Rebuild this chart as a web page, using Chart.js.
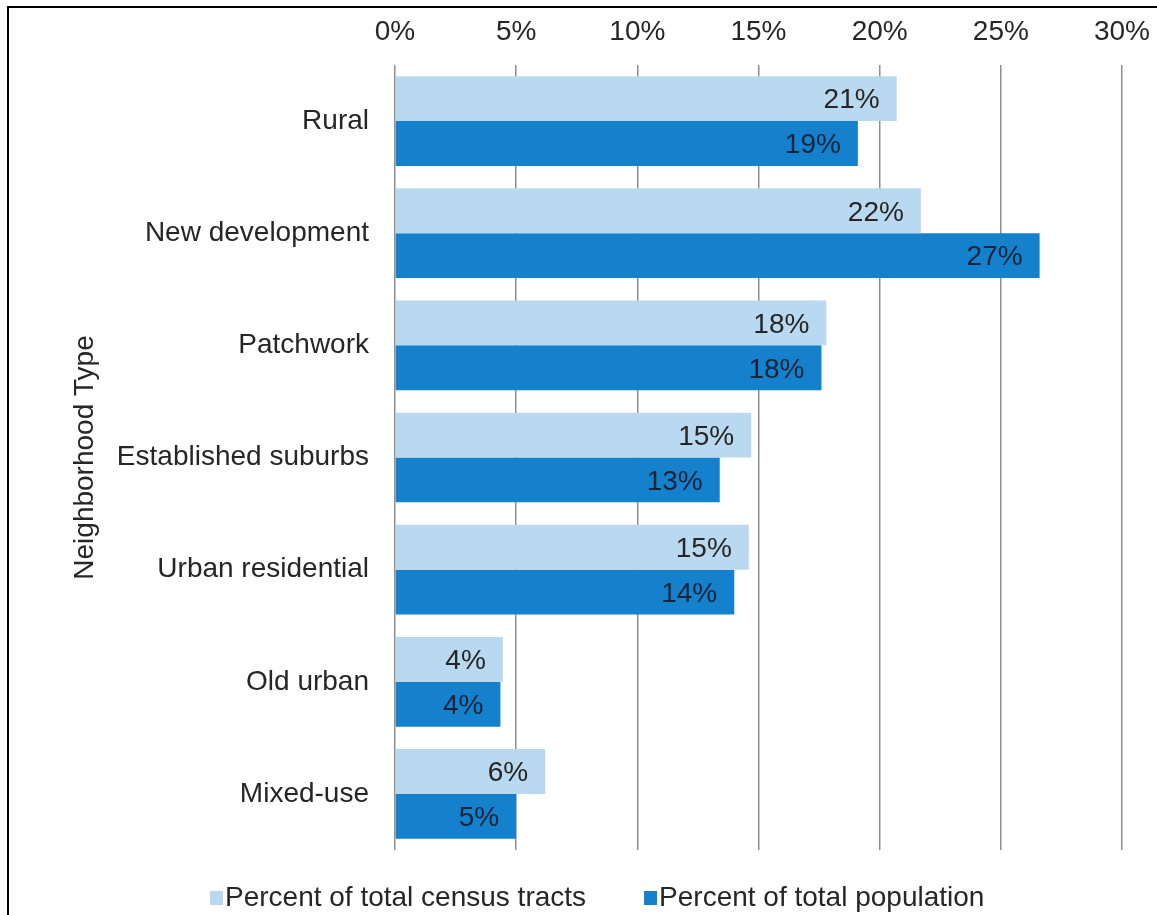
<!DOCTYPE html>
<html>
<head>
<meta charset="utf-8">
<title>Neighborhood Type</title>
<script src="https://cdn.jsdelivr.net/npm/chart.js@4/dist/chart.umd.min.js"></script>
<style>
    body { margin: 0; background: #fff; }
    #wrap { position: relative; width: 1157px; height: 915px; overflow: hidden; }
    #frame {
        position: absolute; left: 7px; top: 6px; right: -10px; bottom: -10px;
        border-left: 2px solid #000; border-top: 2px solid #000;
        pointer-events: none;
    }
</style>
</head>
<body>
<div id="wrap">
    <canvas id="chart" width="1157" height="915"></canvas>
    <div id="frame"></div>
</div>
<script>
const neighborhoodTypes = ['Rural', 'New development', 'Patchwork', 'Established suburbs', 'Urban residential', 'Old urban', 'Mixed-use'];
const censusTractShare = [20.7, 21.7, 17.8, 14.7, 14.6, 4.45, 6.2];
const populationShare = [19.1, 26.6, 17.6, 13.4, 14.0, 4.35, 5.0];
const percentTicks = [0, 5, 10, 15, 20, 25, 30];

const seriesNames = ['Percent of total census tracts', 'Percent of total population'];
const seriesColors = ['#B8D9EF', '#1581CC'];

const FONT = 'Liberation Sans, Arial, sans-serif';
const TEXT_COLOR = '#262626';

// value labels sitting inside the end of each bar
const barLabels = {
    id: 'barLabels',
    afterDatasetsDraw(chart) {
        const ctx = chart.ctx;
        ctx.save();
        ctx.font = '28px ' + FONT;
        ctx.textAlign = 'right';
        ctx.textBaseline = 'middle';
        chart.data.datasets.forEach((ds, i) => {
            ctx.fillStyle = i === 0 ? TEXT_COLOR : '#10243a';
            chart.getDatasetMeta(i).data.forEach((bar, j) => {
                ctx.fillText(Math.round(ds.data[j]) + '%', bar.x - 17, bar.y + 2);
            });
        });
        ctx.restore();
    }
};

// legend drawn by hand so box/text spacing matches
const bottomLegend = {
    id: 'bottomLegend',
    afterDraw(chart) {
        const ctx = chart.ctx;
        ctx.save();
        ctx.font = '28px ' + FONT;
        ctx.textBaseline = 'middle';
        ctx.textAlign = 'left';
        let x = 210;
        const y = 898;
        chart.data.datasets.forEach(ds => {
            ctx.fillStyle = ds.backgroundColor;
            ctx.fillRect(x, y - 7, 13, 14);
            ctx.fillStyle = TEXT_COLOR;
            ctx.fillText(ds.label, x + 15, y);
            x += 15 + ctx.measureText(ds.label).width + 58;
        });
        ctx.restore();
    }
};

const ctx = document.getElementById('chart').getContext('2d');
new Chart(ctx, {
    type: 'bar',
    data: {
        labels: neighborhoodTypes,
        datasets: [{
            label: seriesNames[0],
            data: censusTractShare,
            backgroundColor: seriesColors[0]
        }, {
            label: seriesNames[1],
            data: populationShare,
            backgroundColor: seriesColors[1]
        }]
    },
    options: {
        indexAxis: 'y',
        responsive: false,
        animation: false,
        layout: { padding: { left: 0, right: 35, top: 0, bottom: 65 } },
        datasets: {
            bar: { categoryPercentage: 0.8, barPercentage: 1.0 }
        },
        plugins: {
            legend: { display: false },
            tooltip: { enabled: false }
        },
        scales: {
            x: {
                position: 'top',
                min: 0,
                max: 30,
                z: 1,
                afterBuildTicks: scale => {
                    scale.ticks = percentTicks.map(v => ({ value: v }));
                },
                afterFit: scale => {
                    scale.height = 65;
                    scale.paddingRight = 20;
                },
                ticks: {
                    padding: 16,
                    color: TEXT_COLOR,
                    font: { family: FONT, size: 28 },
                    callback: v => v + '%'
                },
                grid: {
                    color: 'rgba(80,80,80,0.65)',
                    lineWidth: 1.5,
                    drawTicks: false
                },
                border: { display: false }
            },
            y: {
                afterFit: scale => { scale.width = 395; },
                ticks: {
                    padding: 26,
                    color: TEXT_COLOR,
                    font: { family: FONT, size: 28 }
                },
                grid: { display: false, drawTicks: false },
                border: { display: false },
                title: {
                    display: true,
                    text: 'Neighborhood Type',
                    color: TEXT_COLOR,
                    font: { family: FONT, size: 28 },
                    padding: { top: 68, bottom: 0 }
                }
            }
        }
    },
    plugins: [barLabels, bottomLegend]
});
</script>
</body>
</html>
